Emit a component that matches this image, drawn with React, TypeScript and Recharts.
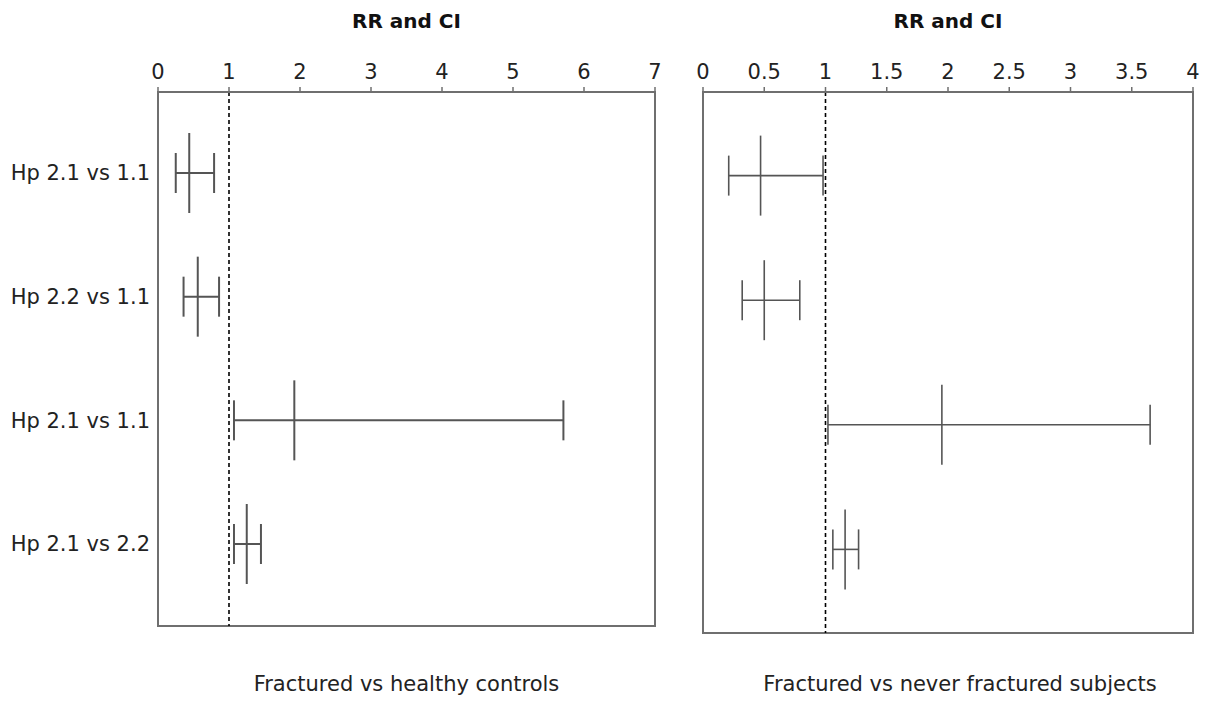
import React from 'react'
import {
  ScatterChart,
  Scatter,
  XAxis,
  YAxis,
  ErrorBar,
  ReferenceLine,
  ReferenceArea,
} from 'recharts'

// rows, top to bottom
const ROW_IDS = [1, 2, 3, 4]
const ROW_LABELS = ['Hp 2.1 vs 1.1', 'Hp 2.2 vs 1.1', 'Hp 2.1 vs 1.1', 'Hp 2.1 vs 2.2']

// fractured vs healthy controls
const HEALTHY_RR = [0.44, 0.56, 1.92, 1.25]
const HEALTHY_LOW = [0.25, 0.36, 1.07, 1.07]
const HEALTHY_HIGH = [0.79, 0.86, 5.71, 1.45]
const HEALTHY_TICKS = [0, 1, 2, 3, 4, 5, 6, 7]

// fractured vs never fractured subjects
const NEVER_RR = [0.47, 0.5, 1.95, 1.16]
const NEVER_LOW = [0.21, 0.32, 1.02, 1.06]
const NEVER_HIGH = [0.98, 0.79, 3.65, 1.27]
const NEVER_TICKS = [0, 0.5, 1, 1.5, 2, 2.5, 3, 3.5, 4]

const TITLE = 'RR and CI'
const LEFT_CAPTION = 'Fractured vs healthy controls'
const RIGHT_CAPTION = 'Fractured vs never fractured subjects'

const FONT = '"DejaVu Sans", Verdana, sans-serif'
const TEXT = '#222'
const AXIS = '#6f6f6f'
const BAR = '#555'

const buildRows = (rr: number[], low: number[], high: number[]) =>
  ROW_IDS.map((row, i) => ({
    row,
    rr: rr[i],
    err: [rr[i] - low[i], high[i] - rr[i]],
  }))

const healthyData = buildRows(HEALTHY_RR, HEALTHY_LOW, HEALTHY_HIGH)
const neverData = buildRows(NEVER_RR, NEVER_LOW, NEVER_HIGH)

type PanelProps = {
  data: any[]
  ticks: number[]
  maxX: number
  yDomain: [number, number]
  showLabels: boolean
  width: number
  height: number
  margin: { top: number; right: number; bottom: number; left: number }
  barWidth: number
}

function Panel({ data, ticks, maxX, yDomain, showLabels, width, height, margin, barWidth }: PanelProps) {
  return (
    <ScatterChart width={width} height={height} margin={margin}>
      <XAxis
        type="number"
        dataKey="rr"
        orientation="top"
        domain={[0, maxX]}
        ticks={ticks}
        height={92}
        interval={0}
        tickSize={5}
        tickMargin={8}
        stroke={AXIS}
        strokeWidth={2}
        tick={{ fill: TEXT, fontSize: 21 }}
        tickLine={{ stroke: AXIS, strokeWidth: 1.5 }}
      />
      <YAxis
        type="number"
        dataKey="row"
        reversed
        domain={yDomain}
        ticks={ROW_IDS}
        interval={0}
        hide={!showLabels}
        width={showLabels ? 158 : 0}
        axisLine={false}
        tickLine={false}
        tickSize={0}
        tickMargin={8}
        tick={{ fill: TEXT, fontSize: 21 }}
        tickFormatter={(v: number) => ROW_LABELS[v - 1]}
      />
      <ReferenceArea
        x1={0}
        x2={maxX}
        y1={yDomain[0]}
        y2={yDomain[1]}
        fill="none"
        stroke={AXIS}
        strokeWidth={2}
      />
      <ReferenceLine x={1} stroke="#000" strokeWidth={1.6} strokeDasharray="4 3" />
      <Scatter
        data={data}
        isAnimationActive={false}
        shape={(p: any) => (
          <line
            x1={p.cx}
            x2={p.cx}
            y1={p.cy - 40}
            y2={p.cy + 40}
            stroke={BAR}
            strokeWidth={barWidth}
          />
        )}
      >
        {/* caps are drawn +/- width around the row */}
        <ErrorBar
          dataKey="err"
          direction="x"
          width={20}
          stroke={BAR}
          strokeWidth={barWidth}
          isAnimationActive={false}
        />
      </Scatter>
    </ScatterChart>
  )
}

const titleStyle: React.CSSProperties = {
  position: 'absolute',
  top: 11,
  fontSize: 20,
  lineHeight: '20px',
  fontWeight: 'bold',
  color: '#111',
  textAlign: 'center',
  whiteSpace: 'nowrap',
}

const captionStyle: React.CSSProperties = {
  position: 'absolute',
  top: 674,
  fontSize: 21,
  lineHeight: '21px',
  color: TEXT,
  textAlign: 'center',
  whiteSpace: 'nowrap',
}

export default function App() {
  return (
    <div
      style={{
        position: 'absolute',
        left: 0,
        top: 0,
        width: 1213,
        height: 705,
        background: '#fff',
        fontFamily: FONT,
        overflow: 'hidden',
      }}
    >
      <div style={{ ...titleStyle, left: 158, width: 497 }}>{TITLE}</div>
      <div style={{ ...titleStyle, left: 703, width: 490 }}>{TITLE}</div>

      <div style={{ position: 'absolute', left: 0, top: 0 }}>
        <Panel
          data={healthyData}
          ticks={HEALTHY_TICKS}
          maxX={7}
          yDomain={[0.345, 4.663]}
          showLabels
          width={680}
          height={705}
          margin={{ top: 0, right: 25, bottom: 79, left: 0 }}
          barWidth={2}
        />
      </div>

      <div style={{ position: 'absolute', left: 680, top: 0 }}>
        <Panel
          data={neverData}
          ticks={NEVER_TICKS}
          maxX={4}
          yDomain={[0.329, 4.671]}
          showLabels={false}
          width={533}
          height={705}
          margin={{ top: 0, right: 20, bottom: 72, left: 23 }}
          barWidth={1.6}
        />
      </div>

      <div style={{ ...captionStyle, left: 158, width: 497 }}>{LEFT_CAPTION}</div>
      <div style={{ ...captionStyle, left: 760, width: 400 }}>{RIGHT_CAPTION}</div>
    </div>
  )
}
